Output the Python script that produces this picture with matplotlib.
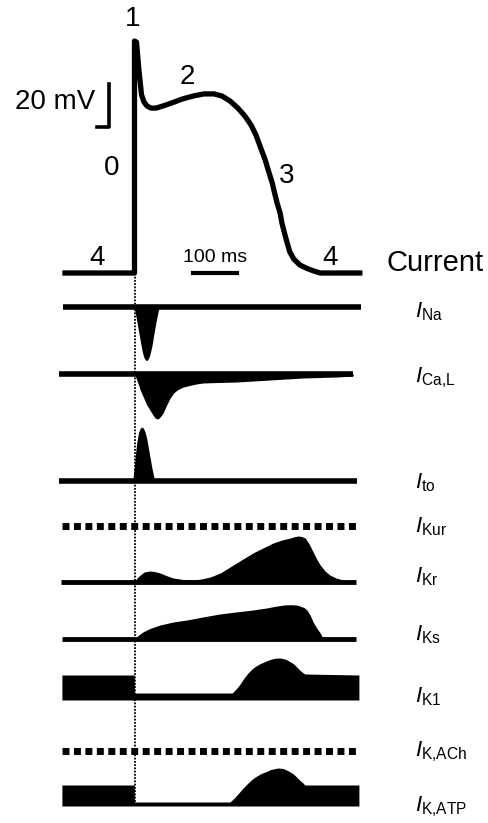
import numpy as np
import matplotlib.pyplot as plt

plt.rcParams['font.family'] = ['Liberation Sans', 'DejaVu Sans']
plt.rcParams['mathtext.fontset'] = 'custom'
plt.rcParams['mathtext.rm'] = 'Liberation Sans'
plt.rcParams['mathtext.it'] = 'Liberation Sans:italic'

W, H = 488, 823

# action potential (ms, mV)
ap_t = [-158, 0, 0, 4.5, 10, 16, 21.6, 28.4, 37.5, 48.9, 64.8, 85, 108, 133,
        158, 181, 199, 217, 235, 251, 265, 276, 287, 297, 306, 313, 319, 324,
        331, 335, 342, 347, 353, 362, 376, 392, 408, 422, 512]
ap_v = [-85, -85, 22.9, 22.4, 9.4, -2.2, -5.5, -7.3, -8.3, -8.3, -7.3, -5.9,
        -4.1, -2.7, -1.7, -1.7, -2.7, -5.0, -8.3, -12.0, -16.2, -20.8, -26.9,
        -32.4, -38.5, -43.1, -48.3, -52.4, -57.1, -61.7, -67.3, -71.0, -75.2,
        -78.5, -81.3, -82.9, -84.1, -85, -85]

# currents (ms, a.u.; outward up)
ina_t = [-1, 4, 8, 12, 16, 19, 22, 25, 28, 31, 34, 37, 40, 44, 48, 52, 55, 57]
ina_a = [0, -11, -21, -31, -41, -47, -51, -53, -53.5, -52, -49, -44, -38, -27,
         -17, -8, -2, 0]

ical_t = [0, 7, 13, 20, 28, 35, 42, 47, 51, 55, 60, 65, 72, 81, 89, 97, 108,
          120, 140, 156, 190, 233, 270, 308, 345, 383, 420, 460, 497]
ical_a = [0, -8, -16, -23, -31, -36, -41, -44, -45, -44.5, -42, -39, -32, -24,
          -19, -16, -13.5, -12, -10, -9, -8.5, -8, -7, -6, -5, -4, -3.5, -3, -2]

ito_t = [-4, -1, 2, 5, 9, 12, 16, 20, 24, 28, 32, 36, 40, 44, 47]
ito_a = [0, 12, 26, 38, 48, 52, 54, 53, 49, 42, 32, 22, 12, 4, 0]

ikr_t = [0, 6, 13, 22, 35, 46, 58, 72, 88, 110, 133, 152, 172, 195, 217, 243,
         269, 292, 315, 335, 354, 365, 372, 380, 388, 397, 406, 414, 422, 433,
         444, 458, 474, 497]
ikr_a = [0, 4, 7, 10, 11, 10.5, 9, 6.5, 4, 2.5, 2, 3, 5, 9, 15, 22, 29, 34, 39,
         42, 44, 45.5, 46, 45.5, 44, 38, 30, 23, 17, 11, 7, 4, 2, 0]

iks_t = [0, 8, 19, 35, 58, 88, 119, 155, 194, 230, 269, 300, 324, 340, 355,
         368, 376, 385, 392, 399, 406, 414, 422, 429]
iks_a = [0, 3.5, 7, 10.5, 14, 17, 19, 22, 25, 27, 29, 31, 33, 34, 34.3, 34, 33,
         31.5, 29, 24, 17, 11, 6, 0]

ik1_t = [-165, -0.5, 0, 222, 231, 240, 249, 258, 267, 276, 286, 297, 308, 320,
         331, 342, 353, 362, 371, 379, 387, 510]
ik1_a = [25, 25, 7, 7, 11, 16, 22, 27, 31, 34, 36.5, 38.5, 40.5, 41.8, 42, 41,
         38.5, 36, 32, 28.5, 26, 25]

ikatp_t = [-165, -0.5, 0, 217, 227, 237, 247, 258, 268, 278, 288, 297, 310,
           326, 338, 350, 358, 366, 375, 383, 387, 510]
ikatp_a = [21, 21, 4, 4, 8, 13, 18, 23, 27, 30, 32.5, 34, 36.5, 38, 37.5, 35,
           33, 30, 26, 23, 21, 21]

labels = ['Na', 'Ca{,}L', 'to', 'Kur', 'Kr', 'Ks', 'K1', 'K{,}ACh', 'K{,}ATP']
label_y = [312, 378, 483, 527, 577, 635, 697, 752, 807]

# layout: pixel -> data
px_per_ms = 0.44
x0 = 134.5
def tx(x):
    return (x - x0) / px_per_ms

fig = plt.figure(figsize=(W / 100, H / 100), dpi=100)
ax = fig.add_axes([0, 0, 1, 1])
ai = fig.add_axes([0, 0, 1, 1])
for a in (ax, ai):
    a.set_xlim(tx(0), tx(W))
    a.axis('off')
    a.patch.set_alpha(0)
ax.set_ylim(-85 + (273 - H) / 2.15, -85 + 273 / 2.15)
ai.set_ylim(0, H)

ax.plot(ap_t, ap_v, color='black', lw=3.8, solid_joinstyle='round')
# scale bars
ax.plot([-58, -58, -86], [3, -17, -17], color='black', lw=2.6)
ax.plot([132, 232], [-85, -85], color='black', lw=3)

def b(y):
    return H - y

# dotted marker of the upstroke
ai.plot([0, 0], [b(805), b(274)], color='black', lw=1.3, ls=(0, (1, 0.8)))

def trace(t, a, base, t0, t1, lw=4):
    ai.fill_between(t, b(base), b(base) + np.array(a), color='black', lw=0)
    ai.plot([t0, t1], [b(base), b(base)], color='black', lw=lw, solid_capstyle='butt')

trace(ina_t, ina_a, 307, tx(63), tx(361))
trace(ical_t, ical_a, 374, tx(59), tx(353))
trace(ito_t, ito_a, 481, tx(59), tx(357))
trace(ikr_t, ikr_a, 582, tx(61), tx(356), lw=3.5)
trace(iks_t, iks_a, 639, tx(62), tx(356), lw=3.5)

for y in (526, 751):
    ai.plot([tx(62), tx(359)], [b(y), b(y)], color='black', lw=5,
            ls=(0, (1.0, 0.65)), dash_capstyle='butt')

ai.fill_between(ik1_t, b(700), b(700) + np.array(ik1_a), color='black', lw=0)
ai.fill_between(ikatp_t, b(806), b(806) + np.array(ikatp_a), color='black', lw=0)

def ftext(x, y, s, **kw):
    fig.text(x / W, 1 - y / H, s, **kw)

big = 20
ftext(133, 19, '1', fontsize=big, ha='center', va='center')
ftext(187, 77, '2', fontsize=big, ha='center', va='center')
ftext(112, 168, '0', fontsize=big, ha='center', va='center')
ftext(287, 176, '3', fontsize=big, ha='center', va='center')
ftext(97, 258, '4', fontsize=big, ha='center', va='center')
ftext(330, 258, '4', fontsize=big, ha='center', va='center')
ftext(95, 102, '20 mV', fontsize=big, ha='right', va='center')
ftext(215, 258, '100 ms', fontsize=14, ha='center', va='center')
ftext(387, 263, 'Current', fontsize=21, ha='left', va='center')

for s, y in zip(labels, label_y):
    ftext(415, y, r'$\mathit{I}_{\mathrm{' + s + '}}$', fontsize=16,
          ha='left', va='center')

fig.savefig('out.png', dpi=100)
